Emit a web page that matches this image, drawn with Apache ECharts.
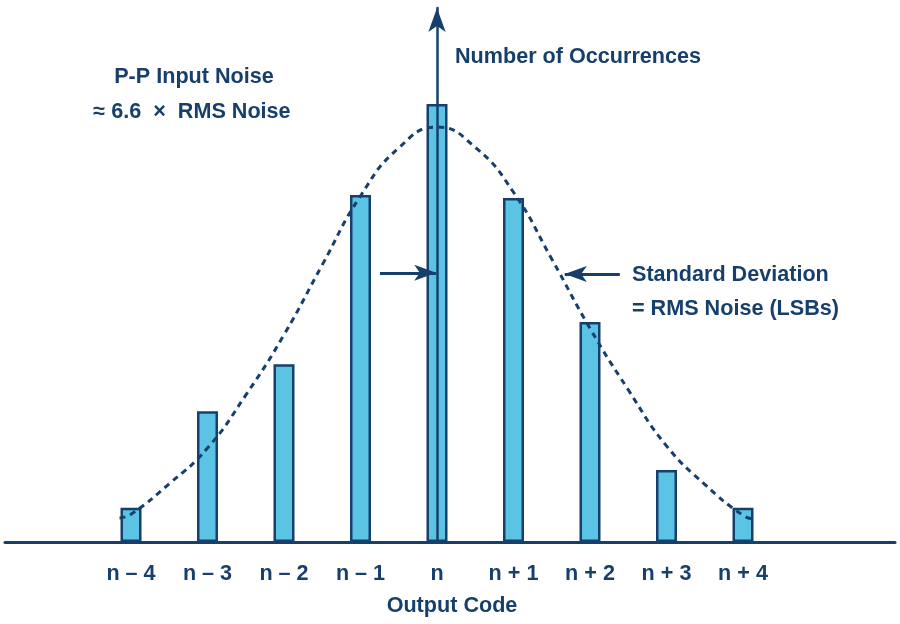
<!DOCTYPE html>
<html>
<head>
<meta charset="utf-8">
<script src="https://cdn.jsdelivr.net/npm/echarts@6/dist/echarts.min.js"></script>
<style>html,body{margin:0;padding:0;background:#fff}#c{width:900px;height:624px}</style>
</head>
<body>
<div id="c"></div>
<script>
// Data
const categories = ['n – 4','n – 3','n – 2','n – 1','n','n + 1','n + 2','n + 3','n + 4'];
const occurrences = [6.4, 24.5, 33.3, 65.0, 82.0, 64.4, 41.2, 13.5, 6.4];
const curveX = [-4.15, -4, -3.5, -3, -2.5, -2, -1.5, -1, -0.5, 0, 0.5, 1, 1.5, 2, 2.5, 3, 3.5, 4, 4.15];
const curveY = [4.5, 5.2, 10.9, 17.6, 27.5, 38.8, 51.9, 64.8, 73.8, 77.7, 73.9, 65.5, 53.0, 40.0, 28.5, 18.0, 10.8, 5.0, 4.3];

const NAVY = '#173f6c';
const FILL = '#5bc4e4';
const FONT = '"Liberation Sans", Arial, sans-serif';
const TFONT = 'bold 21.6px ' + FONT;

const chart = echarts.init(document.getElementById('c'), null, {renderer: 'canvas'});
const curveData = curveX.map((x, i) => [x, curveY[i]]);

const option = {
  animation: false,
  backgroundColor: '#fff',
  grid: [
    {left: 92.75, right: 118.75, top: 8, bottom: 82},
    {left: 5, right: 5, top: 8, bottom: 82}
  ],
  xAxis: [
    {
      type: 'category', gridIndex: 0, data: categories,
      axisLine: {show: false}, axisTick: {show: false},
      axisLabel: {color: NAVY, fontFamily: FONT, fontSize: 21.6, fontWeight: 'bold', margin: 21},
      splitLine: {show: false}
    },
    {
      type: 'value', gridIndex: 0, min: -4.5, max: 4.5, show: false
    },
    {
      type: 'value', gridIndex: 1, min: 0, max: 1,
      axisLine: {show: true, lineStyle: {color: NAVY, width: 3}},
      axisTick: {show: false}, axisLabel: {show: false}, splitLine: {show: false}
    }
  ],
  yAxis: [
    {
      type: 'value', gridIndex: 0, min: 0, max: 100, z: 5,
      axisLine: {show: true, onZero: true, onZeroAxisIndex: 1, symbol: ['none', 'arrow'], symbolSize: [13, 24],
        lineStyle: {color: NAVY, width: 2.5}},
      axisTick: {show: false}, axisLabel: {show: false}, splitLine: {show: false}
    },
    {
      type: 'value', gridIndex: 1, min: 0, max: 1, show: false
    }
  ],
  series: [
    {
      type: 'bar', xAxisIndex: 0, yAxisIndex: 0, data: occurrences, barWidth: 21,
      itemStyle: {color: FILL, borderColor: NAVY, borderWidth: 2.5},
      z: 2
    },
    {
      type: 'line', xAxisIndex: 1, yAxisIndex: 0, data: curveData, smooth: true,
      showSymbol: false, symbol: 'none',
      lineStyle: {color: NAVY, width: 3, type: [6, 5]},
      z: 3,
      markLine: {
        silent: true, animation: false,
        symbol: ['none', 'arrow'], symbolSize: [12, 22],
        label: {show: false},
        lineStyle: {color: NAVY, width: 3, type: 'solid'},
        data: [
          [{coord: [-0.745, 50.4]}, {coord: [-0.01, 50.4]}],
          [{coord: [2.39, 50.2]}, {coord: [1.67, 50.2]}]
        ]
      }
    }
  ],
  graphic: [
    {type: 'text', x: 455, y: 57, style: {text: 'Number of Occurrences', fill: NAVY, font: TFONT, textAlign: 'left', textVerticalAlign: 'middle'}},
    {type: 'text', x: 194, y: 77, style: {text: 'P-P Input Noise', fill: NAVY, font: TFONT, textAlign: 'center', textVerticalAlign: 'middle'}},
    {type: 'text', x: 192, y: 112, style: {text: '≈ 6.6  ×  RMS Noise', fill: NAVY, font: TFONT, textAlign: 'center', textVerticalAlign: 'middle'}},
    {type: 'text', x: 632, y: 275, style: {text: 'Standard Deviation', fill: NAVY, font: TFONT, textAlign: 'left', textVerticalAlign: 'middle'}},
    {type: 'text', x: 632, y: 309, style: {text: '= RMS Noise (LSBs)', fill: NAVY, font: TFONT, textAlign: 'left', textVerticalAlign: 'middle'}},
    {type: 'text', x: 452, y: 606, style: {text: 'Output Code', fill: NAVY, font: TFONT, textAlign: 'center', textVerticalAlign: 'middle'}}
  ]
};
chart.setOption(option);
</script>
</body>
</html>
